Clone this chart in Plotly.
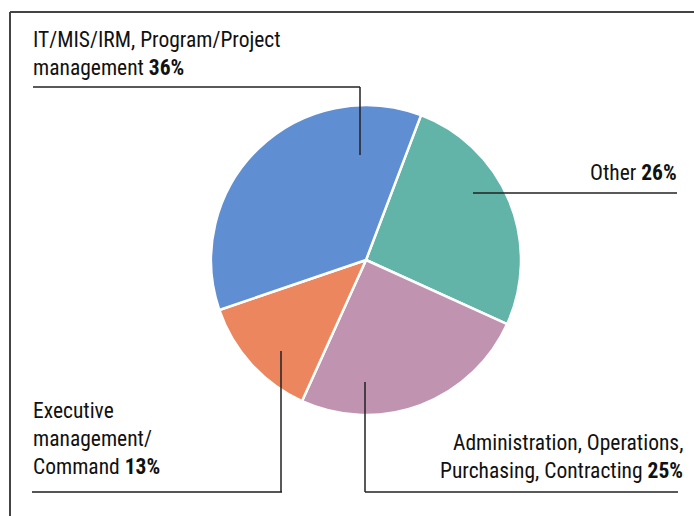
import plotly.graph_objects as go

W, H = 694, 516

# slice data (clockwise, starting at the top-right boundary)
labels = ["Other", "Administration, Operations, Purchasing, Contracting",
          "Executive management/ Command", "IT/MIS/IRM, Program/Project management"]
values = [26, 25, 13, 36]
colors = ["#62b4a8", "#c094b0", "#ec865f", "#5f8fd2"]

# label lines as drawn on the page (text before the bold percentage)
label_lines = {
    "IT": ["IT/MIS/IRM, Program/Project", "management"],
    "Other": ["Other"],
    "Exec": ["Executive", "management/", "Command"],
    "Admin": ["Administration, Operations,", "Purchasing, Contracting"],
}
pct = {"Other": values[0], "Admin": values[1], "Exec": values[2], "IT": values[3]}


def px(x):
    return x / W


def py(y):
    return 1 - y / H


cx, cy, r = 366, 260, 155

fig = go.Figure(go.Pie(
    labels=labels, values=values, sort=False, direction="clockwise",
    rotation=20.8, textinfo="none", hoverinfo="label+percent",
    marker=dict(colors=colors, line=dict(color="white", width=2.5)),
    domain=dict(x=[px(cx - r), px(cx + r)], y=[py(cy + r), py(cy - r)]),
    showlegend=False,
))

FONT = "Roboto Condensed, Liberation Sans Narrow, Arial Narrow, sans-serif"
annotations = []


def add_text(key, x, y0, anchor, step=28):
    lines = label_lines[key]
    for i, t in enumerate(lines):
        if i == len(lines) - 1:
            t = t + " <b>%d%%</b>" % pct[key]
        annotations.append(dict(
            x=px(x), y=py(y0 + i * step), xref="paper", yref="paper",
            text=t, showarrow=False, xanchor=anchor, yanchor="middle",
            font=dict(family=FONT, size=21.5, color="#111"),
        ))


add_text("IT", 31, 39, "left")
add_text("Other", 679, 173, "right")
add_text("Exec", 31, 410, "left")
add_text("Admin", 685, 442, "right")

shapes = []


def seg(x0, y0, x1, y1, color="#222", width=1.5):
    shapes.append(dict(type="line", xref="paper", yref="paper",
                       x0=px(x0), y0=py(y0), x1=px(x1), y1=py(y1),
                       line=dict(color=color, width=width)))


# frame
seg(10, 12, W, 12, "#444", 2)
seg(10, 12, 10, H, "#444", 2)

# leader lines
seg(33, 87, 360, 87)
seg(360, 87, 360, 155)
seg(473, 193, 677, 193)
seg(32, 492, 282, 492, "#555", 2)
seg(281, 492, 281, 351)
seg(365, 492, 678, 492)
seg(365, 492, 365, 382)

fig.update_layout(
    width=W, height=H, margin=dict(l=0, r=0, t=0, b=0),
    paper_bgcolor="white", plot_bgcolor="white",
    annotations=annotations, shapes=shapes,
)

# drop the browser's default 8px body margin so the figure fills the window
fig.write_html("out.html", config={"displayModeBar": False},
               post_script="document.body.style.margin='0';")
